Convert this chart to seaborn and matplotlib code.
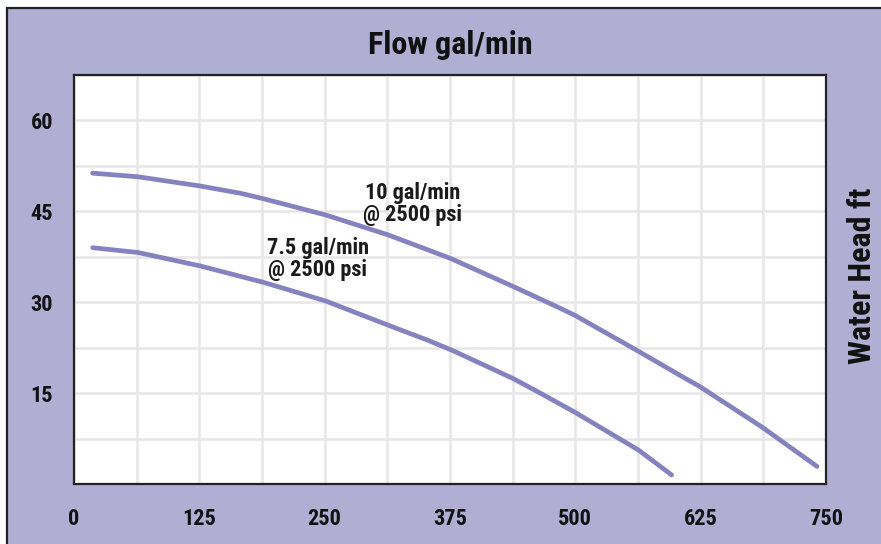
import numpy as np
import pandas as pd
import matplotlib
matplotlib.use("Agg")
import matplotlib.pyplot as plt
from matplotlib.patches import Rectangle
import seaborn as sns

# ---- data ----
flow_10 = [18.6, 64, 125, 165.5, 188.5, 251, 313.5, 376, 438, 485, 500, 563, 611, 624, 687, 741]
head_10 = [51.3, 50.7, 49.2, 48.0, 47.1, 44.4, 41.1, 37.2, 32.6, 29.0, 27.8, 21.9, 17.3, 16.1, 9.3, 2.9]
flow_75 = [18.6, 64, 125.6, 188.5, 225, 251, 313.5, 351.7, 376.7, 438, 465, 500, 563, 596]
head_75 = [39.0, 38.2, 36.0, 33.3, 31.5, 30.2, 26.2, 23.8, 22.1, 17.4, 15.0, 11.8, 5.6, 1.5]
series_names = ["10 gal/min\n@ 2500 psi", "7.5 gal/min\n@ 2500 psi"]
label_x = [338, 243]
label_y = [46.2, 37.2]
x_ticks = [0, 125, 250, 375, 500, 625, 750]
y_ticks = [15, 30, 45, 60]
title = "Flow gal/min"
ylabel = "Water Head ft"

df = pd.concat([
    pd.DataFrame({"flow": flow_10, "head": head_10, "series": series_names[0]}),
    pd.DataFrame({"flow": flow_75, "head": head_75, "series": series_names[1]}),
])

PURPLE = "#b0aed3"
LINE = "#8583bf"
GRID = "#e6e6e6"
DARK = "#222222"
FONT = ["Roboto Condensed", "DejaVu Sans"]

sns.set_theme(style="white")
plt.rcParams["font.family"] = FONT

fig = plt.figure(figsize=(8.81, 5.44), dpi=100, facecolor="white")
W, H = 881, 544
bg = Rectangle((6.5 / W, -0.1), 1.2, (H - 7.5) / H + 0.1, transform=fig.transFigure,
               facecolor=PURPLE, edgecolor=DARK, linewidth=1.6, zorder=-10)
fig.patches.append(bg)

ax = fig.add_axes([74 / W, 1 - 484 / H, (826 - 74) / W, (484 - 75) / H])
ax.set_facecolor("white")

sns.lineplot(data=df, x="flow", y="head", hue="series", sort=False, estimator=None,
             palette=[LINE, LINE], linewidth=3.4, legend=False, ax=ax,
             solid_capstyle="round", solid_joinstyle="round")

ax.set_xlim(0, 750)
ax.set_ylim(0, 67.5)
ax.set_xticks(x_ticks)
ax.set_xticks(np.arange(0, 751, 62.5), minor=True)
ax.set_yticks(y_ticks)
ax.set_yticks(np.arange(0, 67.6, 7.5), minor=True)
ax.set_xticklabels([str(v) for v in x_ticks], fontsize=16, fontweight="bold", color="#111111")
ax.set_yticklabels([str(v) for v in y_ticks], fontsize=16, fontweight="bold", color="#111111")
ax.tick_params(axis="both", which="both", length=0)
ax.tick_params(axis="x", pad=17)
ax.tick_params(axis="y", pad=15)
ax.grid(True, which="both", color=GRID, linewidth=1.8)
ax.set_axisbelow(True)
for s in ax.spines.values():
    s.set_color(DARK)
    s.set_linewidth(1.6)
ax.set_xlabel("")
ax.set_ylabel("")

for name, lx, ly in zip(series_names, label_x, label_y):
    ax.text(lx, ly, name, ha="center", va="center", fontsize=16, fontweight="bold",
            color="#1a1a1a", linespacing=1.0)

fig.text(450 / W, 1 - 45 / H, title, ha="center", va="center", fontsize=23,
         fontweight="bold", color="#111111")
fig.text(862 / W, 1 - 276 / H, ylabel, ha="center", va="center", rotation=90,
         fontsize=23, fontweight="bold", color="#111111")

fig.savefig("out.png", dpi=100, facecolor=fig.get_facecolor())
